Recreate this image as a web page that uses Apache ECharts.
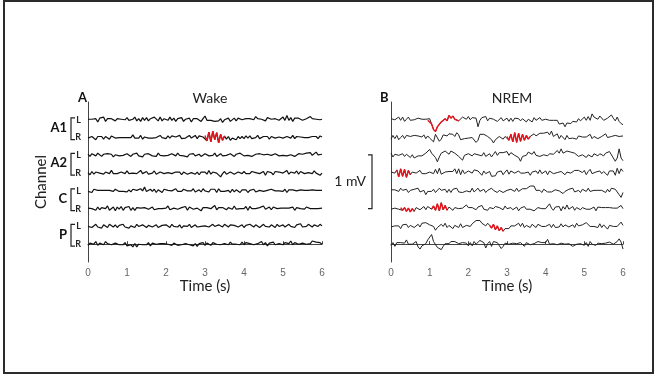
<!DOCTYPE html>
<html>
<head>
<meta charset="utf-8">
<script src="https://cdn.jsdelivr.net/npm/echarts@6/dist/echarts.min.js"></script>
<style>
  html, body { margin: 0; padding: 0; background: #fff; }
  #chart { width: 654px; height: 374px; }
  #frame { position: absolute; left: 3px; top: 0; width: 647px; height: 370px; border: 2px solid #2b2b2b; pointer-events: none; }
</style>
</head>
<body>
<div id="chart"></div>
<div id="frame"></div>
<script>
// values in units of 10 µV, one sample every 0.05 s from 0 to 6 s
const timeTicks = [0, 1, 2, 3, 4, 5, 6];
const STEP = 0.05;
const groups = ['A1', 'A2', 'C', 'P'];
const sides = ['L', 'R', 'L', 'R', 'L', 'R', 'L', 'R'];

const wakeA1L = [
  1,0,1,2,2,-4,3,0,5,-3,2,3,2,0,-2,2,2,1,0,0,
  4,-1,0,1,5,-2,2,-3,4,-1,4,-2,2,0,5,2,-2,5,-2,2,
  -1,-1,5,-1,3,-3,2,4,4,-3,1,2,3,-4,2,1,2,3,-3,2,
  7,-1,0,-1,-2,-3,-3,-2,2,-5,0,-3,3,-3,0,3,-2,3,1,0,
  3,2,3,2,1,0,6,2,2,1,2,-2,4,2,1,1,2,0,-1,2,
  5,-1,8,-1,4,-3,3,5,3,1,-1,1,2,2,6,2,2,1,0,0,1];
const wakeA1R = [
  -1,0,2,2,-4,2,2,2,-3,2,1,-3,3,1,-1,1,0,1,0,1,
  0,0,0,5,-1,-1,-1,4,-3,1,4,-1,0,-1,2,0,-2,4,0,0,
  -2,3,-1,3,1,1,-2,4,-2,1,-1,-1,4,-1,-1,4,-2,3,1,1,
  4,-6,10,-8,12,-4,9,-10,6,-5,3,-3,2,-5,-1,2,-4,2,-2,2,
  -2,3,-1,3,-2,-1,0,4,-2,-1,2,2,2,-3,2,1,-1,1,1,1,
  -1,0,2,2,-1,4,-2,2,0,1,-1,0,2,0,-1,2,1,2,-2,3,1];
const wakeA2L = [
  2,-2,3,0,-1,4,1,-2,2,-1,3,0,2,-3,1,3,-1,2,0,-2,
  3,1,-2,2,0,4,-1,1,-3,2,0,3,1,-1,2,-2,4,0,1,-1,
  2,0,-2,3,1,-1,4,0,2,-1,1,-3,2,0,3,-1,1,2,-2,0,
  3,1,-1,2,0,4,-2,1,3,-1,2,0,-1,3,1,-2,2,0,4,1,
  -1,2,0,3,-2,1,2,-1,3,0,1,-2,2,4,0,-1,3,1,-1,2,
  0,3,-1,2,1,4,-2,1,3,0,2,-1,4,1,5,0,2,6,1,3,2];
const wakeA2R = [
  1,-3,3,-2,2,0,0,-1,-2,2,0,-1,5,-1,-1,-1,1,2,1,-1,
  4,-1,1,0,1,-1,-1,5,-1,-1,3,-2,0,0,4,-2,0,2,2,-1,
  0,1,2,-1,-2,2,2,2,-3,2,2,-2,1,1,0,-2,2,-3,2,0,
  2,-2,5,-2,2,0,0,-1,-7,-1,3,-2,1,2,2,-2,0,2,2,-1,
  3,-1,1,-1,3,1,1,1,-1,0,3,-4,3,2,1,-3,3,1,2,0,
  0,0,5,-2,2,0,0,4,-2,3,0,-1,2,1,-1,-1,4,0,3,-4,0];
const wakeCL = [
  -1,2,-3,3,0,1,-1,1,1,1,-2,1,-1,-1,3,0,-1,1,-1,2,
  -2,2,-2,3,1,1,-2,4,0,7,-1,-1,3,-1,3,-3,2,1,-3,3,
  1,1,-1,0,0,4,-1,-1,-1,3,1,0,0,0,4,-2,-1,2,-2,4,
  0,0,-2,3,0,3,-3,4,-1,1,-1,2,1,-3,3,-2,2,2,-3,2,
  1,2,-3,1,3,3,-2,0,1,2,-1,-1,1,1,3,1,0,0,0,3,
  -1,3,-3,2,3,2,-1,0,1,2,1,1,0,1,2,2,1,1,0,1,1];
const wakeCR = [
  1,1,0,1,-3,3,-2,2,0,0,5,-3,0,3,-4,3,-1,4,-3,2,
  0,4,-3,2,-3,2,0,1,0,2,2,-1,-1,3,-2,0,0,1,0,0,
  1,5,-2,0,1,2,-1,-2,2,-1,4,-3,3,1,-1,1,1,1,-4,2,
  3,2,0,0,0,6,-2,2,0,2,3,-2,2,0,-1,5,-1,0,0,2,
  0,4,-3,4,0,2,0,-2,2,-1,5,-1,-1,3,-2,3,2,0,0,1,
  1,1,0,1,2,3,-3,2,1,0,0,-1,3,1,0,1,0,1,0,0,1];
const wakePL = [
  0,3,-2,1,4,-1,2,-3,3,0,-2,4,1,-1,3,-2,2,0,4,-1,
  2,-3,1,3,-2,4,0,-1,3,1,-2,2,5,-1,1,3,-2,0,2,-1,
  3,1,-2,4,0,2,-1,3,-3,1,2,0,4,-2,1,3,-1,2,0,-2,
  1,3,-1,2,4,0,-2,3,1,-1,4,2,-1,3,0,2,5,-1,1,3,
  -2,2,0,4,1,-1,3,2,-2,1,4,0,2,-1,3,1,-2,4,0,2,
  3,-1,1,4,0,2,-2,3,1,5,-1,2,0,4,1,-1,3,2,0,4,1];
const wakePR = [
  -2,2,0,0,5,-2,2,5,-1,5,1,1,-1,0,2,2,-1,0,-1,3,
  -3,-3,-1,-5,1,-5,0,-1,-1,1,-1,3,-3,2,0,0,-1,1,1,1,
  -1,0,3,-2,2,-1,-2,1,-1,1,1,1,-1,0,-3,1,-4,1,-2,3,
  -2,2,2,-2,3,1,0,3,-1,1,1,1,-1,4,0,1,0,2,-1,4,
  -1,3,1,1,1,-1,2,1,-1,5,-1,3,-3,2,0,4,-1,0,1,2,
  -1,3,1,1,6,-1,3,1,0,3,2,1,0,0,1,6,5,4,4,3,0];

const nremA1L = [
  2,0,0,-2,5,-1,5,-3,1,5,-1,1,0,-1,3,1,1,3,1,-1,
  2,-8,-18,-22,-13,-10,-4,-7,2,-2,8,3,7,1,3,-2,-1,5,4,1,
  6,0,4,2,3,-13,-1,4,3,6,-2,3,1,1,3,-3,-1,4,-2,-1,
  3,-3,3,-3,3,2,2,-2,2,3,-4,1,4,-4,4,-1,-3,4,-1,-3,
  1,-1,-1,-3,-1,-2,-1,-8,-9,-6,-13,-6,-7,-7,-3,-4,-4,2,-2,1,
  5,-1,6,-1,11,5,3,1,7,6,-1,0,3,1,9,3,-2,5,-3,-7,-9];
const nremA1R = [
  -3,4,-2,4,-4,0,4,-2,4,3,2,5,4,1,3,3,1,5,-2,3,
  -1,-3,-8,6,9,-7,-3,5,8,3,7,4,6,2,9,5,-4,-6,-2,1,
  -1,1,0,3,-9,-5,6,6,6,5,2,4,-4,-10,-4,-1,2,4,-3,2,
  2,-5,6,-8,9,-9,8,-7,6,-5,4,-3,2,1,7,3,6,8,7,8,
  7,10,5,12,2,2,7,-2,4,2,-4,4,-2,0,-1,-1,-3,3,1,1,
  -1,1,0,6,-2,2,0,-2,0,2,0,7,0,1,2,1,4,4,2,2,3];
const nremA2L = [
  4,-3,2,2,0,-1,3,-2,2,1,-4,1,-5,-3,-1,-3,-1,-3,4,4,
  11,4,3,-4,-12,-3,4,5,8,7,2,8,8,4,4,-2,-2,-9,0,0,
  3,0,-1,3,0,1,0,-1,5,-2,-2,3,-3,2,7,0,5,3,5,4,
  7,0,5,3,0,-1,-4,-11,-2,-2,0,6,5,2,7,0,1,-2,1,1,
  3,-1,3,4,2,5,9,4,12,4,6,8,8,6,6,4,4,-2,1,1,
  3,-4,1,1,-3,3,1,-1,3,2,-1,4,4,7,6,-5,-11,-5,12,-5,-10];
const nremA2R = [
  2,-1,0,6,-7,8,-6,7,-8,5,-3,2,0,0,-2,5,-1,1,-1,2,
  2,0,-1,7,-1,9,-2,1,2,1,3,1,3,8,-1,8,-3,6,-1,-3,
  4,2,0,6,4,4,2,-4,4,-1,-2,3,-6,-5,-5,2,2,4,-3,2,
  6,-2,4,1,0,3,4,0,1,0,2,2,-4,2,1,4,-1,6,-1,-1,
  4,-3,4,7,-1,2,1,2,3,2,-3,2,0,0,-2,5,5,5,2,1,
  5,-3,3,7,-1,2,2,4,4,-1,3,3,-4,4,4,4,-4,9,-1,8,3];
const nremCL = [
  2,-1,2,1,-1,5,1,-1,3,-3,1,-1,3,2,5,-2,-2,1,-7,-1,
  1,-1,3,-3,-1,5,1,-1,3,-3,3,-3,3,2,5,-2,-2,-3,-6,0,
  3,-2,5,-2,-1,5,-1,1,3,-3,1,-2,5,1,3,-3,1,4,-3,-1,
  1,-1,3,1,-1,5,-1,0,4,2,4,2,9,8,9,1,1,1,-3,3,
  3,-2,1,-2,-1,2,1,0,1,-5,-1,-3,3,2,5,-2,1,1,-3,3,
  5,-1,5,-1,-1,1,-1,1,3,1,3,-3,3,-2,5,2,3,3,-7,-12,-3];
const nremCR = [
  -1,-1,1,1,-1,2,-3,2,-5,1,-6,0,-5,2,2,-2,0,4,-2,4,
  1,-1,5,-3,9,-4,11,-2,6,-3,3,4,-3,2,2,0,2,1,0,7,
  2,-1,2,1,-2,3,1,6,-1,2,-3,2,-1,0,4,1,2,1,-2,5,
  0,1,2,-2,1,3,-4,1,-2,4,-1,2,-1,-3,-4,-5,2,2,0,2,
  0,1,9,1,-3,3,3,4,-4,4,-1,7,-1,-1,4,-3,2,5,-2,2,
  1,-1,1,-1,2,3,-4,3,1,2,0,2,1,2,2,1,2,1,0,6,0];
const nremPL = [
  -1,0,1,0,1,-4,3,2,4,-2,2,1,-2,1,4,-1,6,4,7,8,
  3,0,0,-7,-2,-3,4,0,6,-2,2,3,-4,2,5,-2,5,-2,-1,2,
  1,0,5,4,11,8,11,6,8,1,6,2,-3,4,-6,1,-8,-2,-9,-4,
  -7,-4,1,-1,1,-1,6,0,6,-2,2,1,-2,4,4,-2,4,3,0,2,
  0,-2,4,-2,4,-2,1,-1,5,-1,3,2,-1,-1,3,-2,6,1,-2,3,
  3,7,7,0,1,0,3,-2,5,-2,3,3,-5,2,2,0,2,0,1,8,2];
const nremPR = [
  -2,3,-4,3,2,3,3,2,8,0,2,0,-2,5,-5,-9,-3,-2,1,8,
  8,18,5,4,-6,-8,-10,-4,1,-1,1,5,3,5,5,1,3,3,1,2,
  -3,3,-3,5,0,1,7,4,3,-7,1,5,-4,5,8,3,1,-8,-4,2,
  -1,0,-1,2,0,1,-2,3,3,-4,3,2,-1,2,1,-2,5,6,3,3,
  3,9,0,2,1,2,-1,-2,2,-1,0,3,1,3,-4,-7,0,-1,1,3,
  -2,3,-4,5,0,1,-2,2,3,1,3,2,1,4,4,0,2,5,10,4,-9];

// spindles: [channel index, from (s), to (s)]
const wakeSpindles = [[1, 3.0, 3.5]];
const nremSpindles = [[0, 0.95, 1.75], [1, 3.0, 3.6], [3, 0.15, 0.5], [5, 0.25, 0.6], [5, 1.05, 1.45], [6, 2.55, 2.9]];

const wakeTraces = [wakeA1L, wakeA1R, wakeA2L, wakeA2R, wakeCL, wakeCR, wakePL, wakePR];
const nremTraces = [nremA1L, nremA1R, nremA2L, nremA2R, nremCL, nremCR, nremPL, nremPR];

const GAP = 33;          // channel spacing
const BAR_FROM = 66;     // scale bar bottom
const BAR_SIZE = 100;    // 1 mV

const FONT = 'Lato';
const chart = echarts.init(document.getElementById('chart'));

function buildSeries(traces, spindles, axis, color, width) {
  const out = [];
  traces.forEach((vals, k) => {
    const base = (7 - k) * GAP;
    out.push({
      type: 'line', xAxisIndex: axis, yAxisIndex: axis, silent: true,
      showSymbol: false, z: 2,
      lineStyle: { color: color, width: width },
      data: vals.map((v, i) => [+(i * STEP).toFixed(2), base + v])
    });
  });
  spindles.forEach(([k, from, to]) => {
    const base = (7 - k) * GAP;
    const pts = [];
    traces[k].forEach((v, i) => {
      const t = +(i * STEP).toFixed(2);
      if (t >= from && t <= to) pts.push([t, base + v]);
    });
    out.push({
      type: 'line', xAxisIndex: axis, yAxisIndex: axis, silent: true,
      showSymbol: false, z: 3,
      lineStyle: { color: '#e8141c', width: 1.4 },
      data: pts
    });
  });
  return out;
}

function xAxisFor(i) {
  return {
    gridIndex: i, type: 'value', min: 0, max: 6, interval: 1,
    name: 'Time (s)', nameLocation: 'middle', nameGap: 14,
    nameTextStyle: { fontFamily: FONT, fontSize: 15, color: '#222' },
    axisLine: { lineStyle: { color: '#444', width: 1 } },
    axisTick: { inside: true, length: 3, lineStyle: { color: '#444' } },
    axisLabel: { fontFamily: 'Liberation Sans', fontSize: 10, color: '#666', margin: 6,
      formatter: v => timeTicks.includes(v) ? String(v) : '' },
    splitLine: { show: false }
  };
}

function yAxisFor(i, showSides) {
  return {
    gridIndex: i, type: 'value', min: -GAP, max: 8 * GAP, interval: GAP,
    axisLine: { show: true, lineStyle: { color: '#444', width: 1 } },
    axisTick: { show: false },
    splitLine: { show: false },
    axisLabel: {
      show: showSides, margin: 7, fontFamily: FONT, fontSize: 9, fontWeight: 'bold', color: '#222',
      formatter: v => {
        const k = 7 - Math.round(v / GAP);
        return k >= 0 && k < 8 ? sides[k] : '';
      }
    }
  };
}

chart.setOption({
  animation: false,
  grid: [
    { left: 88, top: 102, width: 234, height: 160 },
    { left: 391, top: 102, width: 232, height: 160 }
  ],
  title: [
    { text: 'A', left: 73, top: 86, textStyle: { fontFamily: FONT, fontSize: 13, fontWeight: 'bold', color: '#111' } },
    { text: 'Wake', left: 205, top: 86, textAlign: 'center', textStyle: { fontFamily: FONT, fontSize: 14, fontWeight: 'normal', color: '#222' } },
    { text: 'B', left: 375, top: 86, textStyle: { fontFamily: FONT, fontSize: 13, fontWeight: 'bold', color: '#111' } },
    { text: 'NREM', left: 507, top: 86, textAlign: 'center', textStyle: { fontFamily: FONT, fontSize: 14, fontWeight: 'normal', color: '#222' } }
  ],
  xAxis: [xAxisFor(0), xAxisFor(1)],
  yAxis: [yAxisFor(0, true), yAxisFor(1, false)],
  series: buildSeries(wakeTraces, wakeSpindles, 0, '#111', 1.2)
    .concat(buildSeries(nremTraces, nremSpindles, 1, '#222', 1))
});

// channel brackets, axis title and scale bar placed through the axes
const toPx = (g, t, v) => chart.convertToPixel({ gridIndex: g }, [t, v]);
const graphics = [];
const x0 = toPx(0, 0, 0)[0];
groups.forEach((name, g) => {
  const yTop = toPx(0, 0, (7 - 2 * g) * GAP)[1] - 2;
  const yBot = toPx(0, 0, (6 - 2 * g) * GAP)[1] + 2;
  const bx = x0 - 17;
  graphics.push({
    type: 'polyline', silent: true,
    shape: { points: [[bx + 4, yTop], [bx, yTop], [bx, yBot], [bx + 4, yBot]] },
    style: { stroke: '#222', lineWidth: 1.2, fill: null }
  });
  graphics.push({
    type: 'text', silent: true, x: bx - 4, y: (yTop + yBot) / 2 - 1,
    style: { text: name, align: 'right', verticalAlign: 'middle', font: 'bold 13px ' + FONT, fill: '#111' }
  });
});
const yMid = (toPx(0, 0, -GAP)[1] + toPx(0, 0, 8 * GAP)[1]) / 2;
graphics.push({
  type: 'text', silent: true, x: 41, y: yMid, rotation: Math.PI / 2,
  style: { text: 'Channel', align: 'center', verticalAlign: 'middle', font: '15px ' + FONT, fill: '#222' }
});
const sx = toPx(1, 0, 0)[0] - 19;
const sy1 = toPx(1, 0, BAR_FROM)[1];
const sy2 = toPx(1, 0, BAR_FROM + BAR_SIZE)[1];
graphics.push({
  type: 'polyline', silent: true,
  shape: { points: [[sx - 4, sy2], [sx, sy2], [sx, sy1], [sx - 4, sy1]] },
  style: { stroke: '#222', lineWidth: 1.2, fill: null }
});
graphics.push({
  type: 'text', silent: true, x: sx - 6, y: (sy1 + sy2) / 2,
  style: { text: '1 mV', align: 'right', verticalAlign: 'middle', font: '14px ' + FONT, fill: '#222' }
});
chart.setOption({ graphic: graphics });
</script>
</body>
</html>
